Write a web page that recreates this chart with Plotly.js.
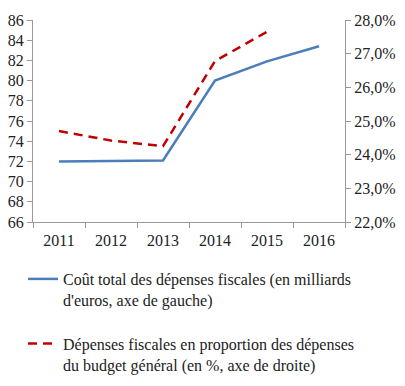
<!DOCTYPE html>
<html><head><meta charset="utf-8">
<script src="https://cdn.plot.ly/plotly-3.0.1.min.js"></script>
<style>body{margin:0;padding:0;background:#fff}#chart{width:405px;height:386px}</style>
</head><body>
<div id="chart"></div>
<script>
const years = ['2011','2012','2013','2014','2015','2016'];
const coutTotal = [72.0, 72.05, 72.1, 80.0, 81.9, 83.4];
const yearsPct = ['2011','2012','2013','2014','2015'];
const partBudget = [24.7, 24.42, 24.25, 26.78, 27.65];
const leftTicks = [66,68,70,72,74,76,78,80,82,84,86];
const rightTicks = [22,23,24,25,26,27,28];
const rightTickText = rightTicks.map(v => v.toFixed(1).replace('.', ',') + '%');
const name1 = "Coût total des dépenses fiscales (en milliards<br>d'euros, axe de gauche)";
const name2 = "Dépenses fiscales en proportion des dépenses<br>du budget général (en %, axe de droite)";
const F = 'Liberation Serif';
const tf = () => ({family:F, size:16, color:'#222'});

const data = [
  {x: years, y: coutTotal, type:'scatter', mode:'lines', name:name1, legendgroup:'a',
   line:{color:'#4a7ebb', width:2.5}, yaxis:'y'},
  {x: yearsPct, y: partBudget, type:'scatter', mode:'lines', name:name2, legendgroup:'b',
   line:{color:'#c00000', width:2.5, dash:'9px,6px'}, yaxis:'y2'}
];
const layout = {
  width:405, height:386,
  margin:{l:33, r:60, t:20, b:164, autoexpand:false},
  paper_bgcolor:'#fff', plot_bgcolor:'#fff',
  font:tf(),
  showlegend:true,
  xaxis:{type:'category', range:[-0.5,5.5], showgrid:false, showline:true, linecolor:'#999', linewidth:1,
    ticks:'outside', tickson:'boundaries', ticklen:5, tickcolor:'#999', zeroline:false, tickfont:tf(),
    ticklabelstandoff:4},
  yaxis:{range:[66,86], tickvals:leftTicks, showgrid:false, showline:true, linecolor:'#999', linewidth:1,
    ticks:'outside', ticklen:5, tickcolor:'#999', zeroline:false, tickfont:tf()},
  yaxis2:{range:[22,28], tickvals:rightTicks, ticktext:rightTickText, overlaying:'y', side:'right', showgrid:false, showline:true,
    linecolor:'#999', linewidth:1, ticks:'outside', ticklen:5, tickcolor:'#999', zeroline:false, tickfont:tf()},
  legend:{xref:'container', x:23/405, xanchor:'left', yref:'container', y:1-262/386, yanchor:'top', orientation:'v', valign:'top',
    traceorder:'grouped', tracegroupgap:20, itemwidth:30,
    font:tf(), bgcolor:'rgba(0,0,0,0)'}
};
Plotly.newPlot('chart', data, layout, {displayModeBar:false, staticPlot:true});
</script></body></html>
